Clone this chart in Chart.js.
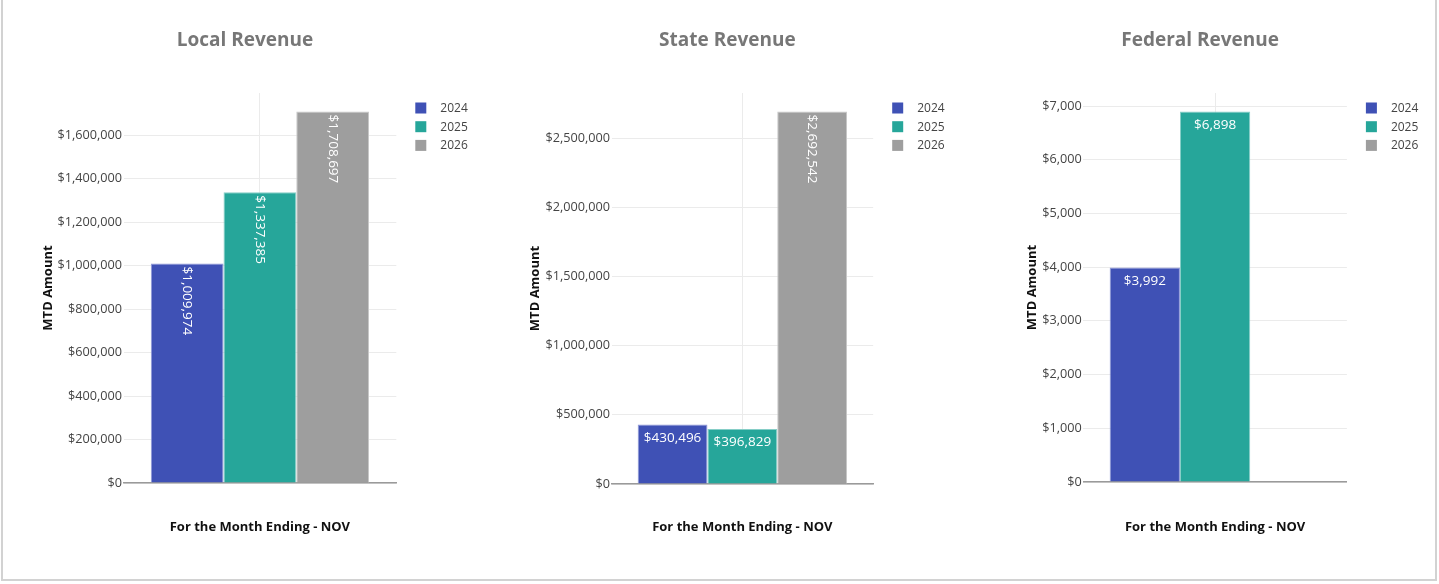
<!DOCTYPE html>
<html lang="en">
<head>
<meta charset="utf-8">
<title>MTD Revenue</title>
<script src="https://cdn.jsdelivr.net/npm/chart.js@4.4.1/dist/chart.umd.min.js"></script>
<style>
  html, body { margin: 0; padding: 0; background: #fff; overflow: hidden; }
  .frame { position: absolute; left: 1px; top: -3px; width: 1436px; height: 584px; box-sizing: border-box; border: 2px solid #d2d2d2; }
  .panel { position: absolute; top: 0; width: 479px; height: 584px; }
</style>
</head>
<body>
<div class="frame"></div>
<div class="panel" style="left:0"><canvas id="localChart"></canvas></div>
<div class="panel" style="left:479px"><canvas id="stateChart"></canvas></div>
<div class="panel" style="left:958px"><canvas id="federalChart"></canvas></div>

<script>
// Month-to-date revenue by source, one bar per fiscal year
const years = ['2024', '2025', '2026']
const month = 'NOV'

const localRevenue = [1009974, 1337385, 1708697]
const stateRevenue = [430496, 396829, 2692542]
const federalRevenue = [3992, 6898, null] // nothing booked for 2026 yet

const localTicks = [0, 200000, 400000, 600000, 800000, 1000000, 1200000, 1400000, 1600000]
const stateTicks = [0, 500000, 1000000, 1500000, 2000000, 2500000]
const federalTicks = [0, 1000, 2000, 3000, 4000, 5000, 6000, 7000]

const barColors = ['#3F51B5', '#26A69A', '#9E9E9E']
const barEdges = ['#8f99d8', '#86cec7', '#c8c8c8']

Chart.defaults.font.family = '"Open Sans", "Noto Sans", sans-serif'

const money = (v) => '$' + Number(v).toLocaleString('en-US')

// chart title, side legend and the value printed inside each bar
const panelDecor = {
  id: 'panelDecor',
  afterDatasetsDraw(chart) {
    const { ctx } = chart
    ctx.save()
    ctx.font = '13.5px "Open Sans"'
    ctx.fillStyle = '#fff'
    chart.data.datasets.forEach((ds, i) => {
      chart.getDatasetMeta(i).data.forEach((bar, j) => {
        const v = ds.data[j]
        if (v == null) return
        const text = money(v)
        const w = ctx.measureText(text).width
        if (w + 8 <= bar.width) {
          ctx.textAlign = 'center'
          ctx.textBaseline = 'middle'
          ctx.fillText(text, bar.x, bar.y + 13.5)
        } else {
          // label wider than the bar, run it down the bar instead
          ctx.save()
          ctx.translate(bar.x, bar.y + 3)
          ctx.rotate(Math.PI / 2)
          ctx.textAlign = 'left'
          ctx.textBaseline = 'middle'
          ctx.fillText(text, 0, 0)
          ctx.restore()
        }
      })
    })
    ctx.restore()
  },
  afterDraw(chart, args, opts) {
    const { ctx, chartArea } = chart
    ctx.save()
    ctx.font = 'bold 19px "Open Sans"'
    ctx.fillStyle = '#777'
    ctx.textAlign = 'center'
    ctx.textBaseline = 'alphabetic'
    ctx.fillText(opts.title, (chartArea.left + chartArea.right) / 2 - 15, 45.7)

    ctx.font = '12px "Open Sans"'
    ctx.textAlign = 'left'
    ctx.textBaseline = 'middle'
    const x = chartArea.right + 19
    chart.data.datasets.forEach((ds, i) => {
      const y = 108 + i * 18.7
      ctx.fillStyle = ds.backgroundColor
      ctx.fillRect(x, y - 5.5, 11, 11)
      ctx.fillStyle = '#444'
      ctx.fillText(ds.label, x + 25, y + 0.5)
    })
    ctx.restore()
  }
}

function revenueChart(canvasId, title, values, ticks, box) {
  const yMax = Math.max(...values.filter(v => v != null)) * 1.05
  return new Chart(document.getElementById(canvasId), {
    type: 'bar',
    data: {
      labels: [month],
      datasets: years.map((year, i) => ({
        label: year,
        data: [values[i]],
        backgroundColor: barColors[i],
        borderColor: barEdges[i],
        borderWidth: 1
      }))
    },
    plugins: [panelDecor],
    options: {
      responsive: true,
      maintainAspectRatio: false,
      animation: false,
      layout: { padding: { top: 93, right: 479 - box.right, left: 0, bottom: 0 } },
      categoryPercentage: 0.8,
      barPercentage: 1,
      plugins: {
        legend: { display: false },
        title: { display: false },
        tooltip: { enabled: false },
        panelDecor: { title }
      },
      scales: {
        x: {
          grid: { offset: false, color: '#ebebeb', drawTicks: false },
          border: { display: true, color: '#9a9a9a', width: 1.5 },
          ticks: { display: false },
          title: {
            display: true,
            text: 'For the Month Ending - ' + month,
            color: '#111',
            font: { size: 13, weight: 'bold' },
            padding: { top: 0, bottom: 48.7 }
          },
          afterFit: (s) => { s.height = 584 - box.bottom }
        },
        y: {
          min: 0,
          max: yMax,
          grid: { color: '#ebebeb', drawTicks: false },
          border: { display: false },
          ticks: {
            padding: 1.5,
            color: '#444',
            font: { size: 12.7 },
            callback: (v) => money(v)
          },
          afterBuildTicks: (s) => { s.ticks = ticks.map(value => ({ value })) },
          afterFit: (s) => { s.width = box.left },
          title: {
            display: true,
            text: 'MTD Amount',
            color: '#111',
            font: { size: 13, weight: 'bold' },
            padding: { top: box.yTitle - 7.8, bottom: 0 }
          }
        }
      }
    }
  })
}

revenueChart('localChart', 'Local Revenue', localRevenue, localTicks,
  { left: 123.5, right: 396.3, bottom: 483, yTitle: 48 })
revenueChart('stateChart', 'State Revenue', stateRevenue, stateTicks,
  { left: 132.5, right: 394.2, bottom: 484, yTitle: 56 })
revenueChart('federalChart', 'Federal Revenue', federalRevenue, federalTicks,
  { left: 125.3, right: 388.9, bottom: 482, yTitle: 74 })
</script>
</body>
</html>
